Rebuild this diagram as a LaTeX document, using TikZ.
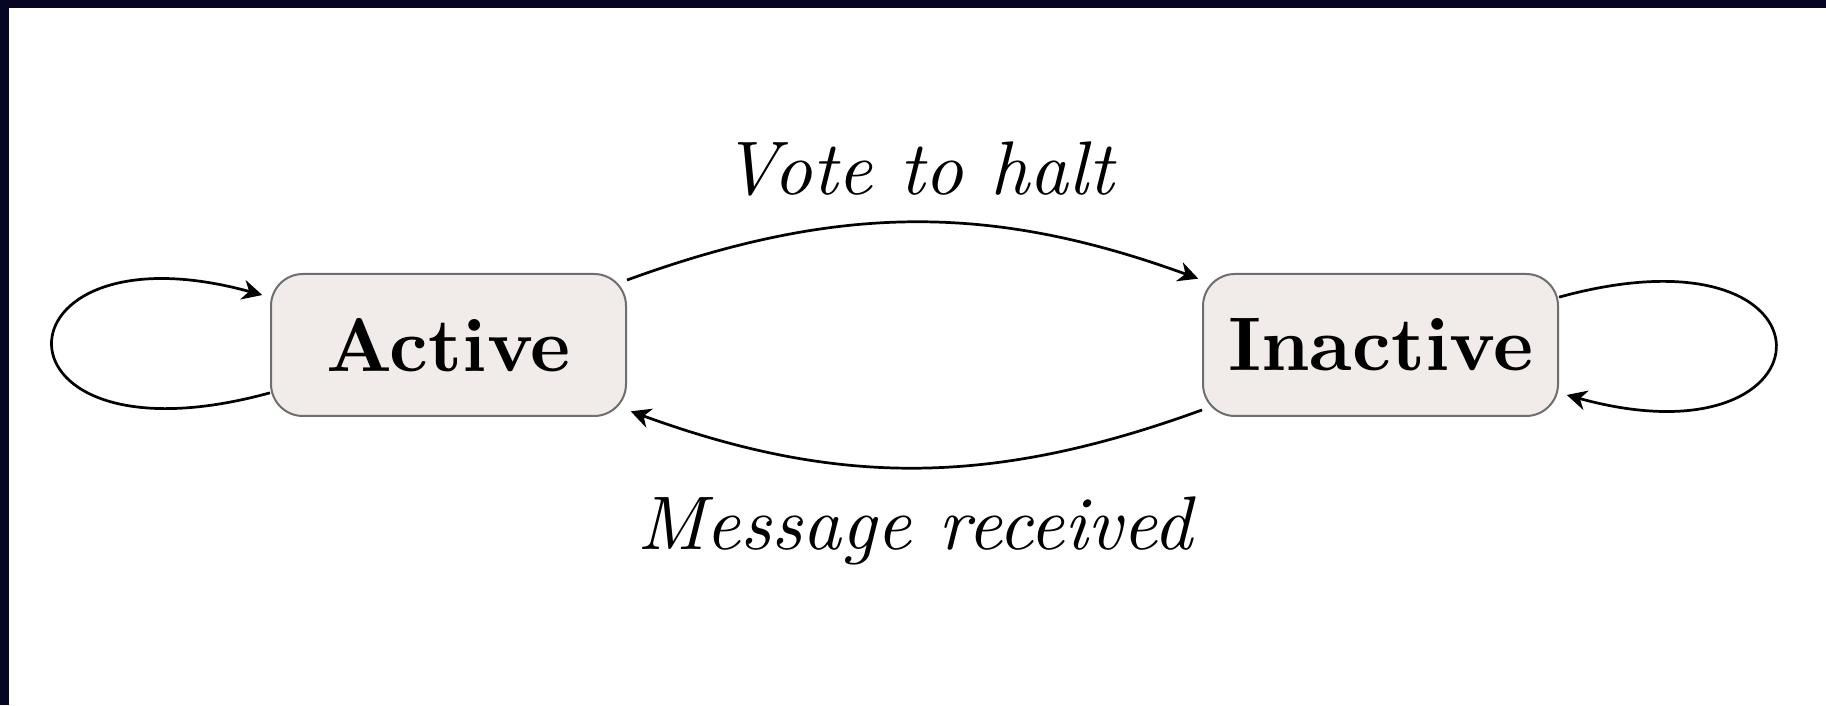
\documentclass[tikz,border=0pt]{standalone}
\usepackage{graphicx}
\usetikzlibrary{arrows.meta}
\definecolor{navy}{RGB}{5,6,35}
\definecolor{statefill}{RGB}{241,236,233}
\definecolor{stateline}{RGB}{110,110,110}
\newcommand{\bigtxt}[1]{\scalebox{1.9}{#1}}
\tikzset{
  statebox/.style={draw=stateline, line width=0.5pt, fill=statefill, rounded corners=8pt,
    minimum width=88.75pt, minimum height=35.5pt, inner sep=0pt,
    font=\fontsize{10}{12}\selectfont\bfseries},
  edgelabel/.style={font=\fontsize{10}{12}\selectfont\itshape, anchor=base, inner sep=0pt},
  conn/.style={line width=0.68pt, -{Stealth[length=5pt,width=5pt,inset=1.6pt]}, shorten >=1pt}
}
\begin{document}
\begin{tikzpicture}[x=0.25pt,y=0.25pt]
\useasboundingbox (0,0) rectangle (1826,705);
\fill[white] (0,0) rectangle (1826,705);
\fill[navy] (0,697) rectangle (1826,705);
\fill[navy] (0,0) rectangle (9,705);
\node[statebox] (A) at (448.5,360) {\bigtxt{Active}};
\node[statebox] (I) at (1380.5,360) {\bigtxt{Inactive}};
\draw[conn] (A.20) to[bend left=20] (I.160);
\draw[conn] (I.200) to[bend left=20] (A.-20);
\node[edgelabel] (vote) at (918,510) {\bigtxt{Vote to halt}};
\node[edgelabel] (msg) at (915,155) {\bigtxt{Message received}};
\draw[conn, shorten >=2pt] (A.195) .. controls +(-292,-80) and +(-284,78) .. (A.165);
\draw[conn, shorten >=2pt] (I.15) .. controls +(291,80) and +(282,-78) .. (I.-15);
\end{tikzpicture}
\end{document}
